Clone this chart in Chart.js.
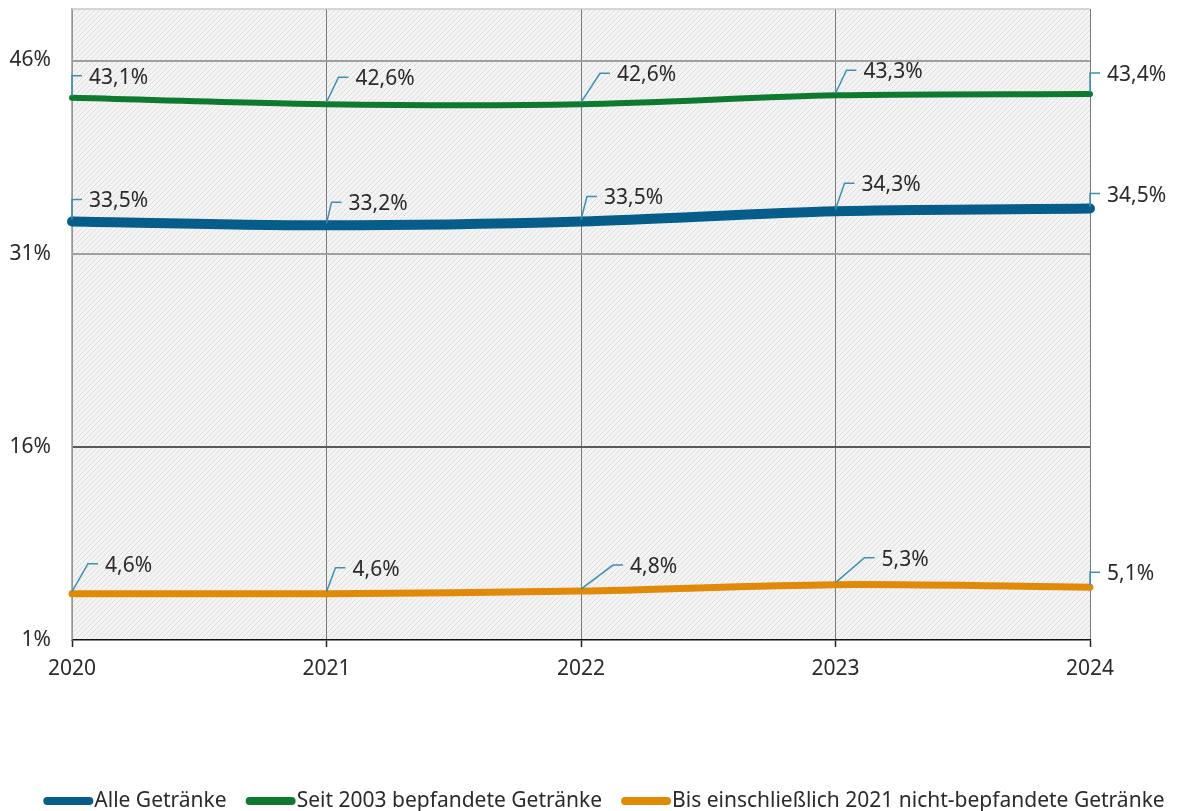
<!DOCTYPE html>
<html>
<head>
<meta charset="utf-8">
<script src="https://cdn.jsdelivr.net/npm/chart.js@4"></script>
<style>
	html, body { margin: 0; padding: 0; background: #fff; }
	#wrap { width: 1180px; height: 811px; }
</style>
</head>
<body>
<div id="wrap"><canvas id="LineChart" width="1180" height="811"></canvas></div>
<script>
const years = ["2020", "2021", "2022", "2023", "2024"];
const alle = [33.5, 33.2, 33.5, 34.3, 34.5];
const seit2003 = [43.1, 42.6, 42.6, 43.3, 43.4];
const bis2021 = [4.6, 4.6, 4.8, 5.3, 5.1];
const y_ticks = [1, 16, 31, 46];

const FONT = "'Noto Sans', sans-serif";
const TEXT_COLOR = "#2a2a2a";

// leader elbow offsets (px) per dataset / point, as placed in the original
const leader_offsets = [
	[[0, -22], [5, -23], [6, -25], [9, -28], [0, -15]],
	[[0, -22], [12, -27], [19, -31], [11, -25], [0, -21]],
	[[16, -30], [9, -26], [32, -26], [29, -27], [0, -15]]
];

function de_percent(v) {
	return v.toFixed(1).replace(".", ",") + "%";
}

function hatch_pattern(ctx) {
	const c = document.createElement("canvas");
	c.width = 5;
	c.height = 5;
	const p = c.getContext("2d");
	p.fillStyle = "#f4f4f4";
	p.fillRect(0, 0, 5, 5);
	p.strokeStyle = "#dddddd";
	p.lineWidth = 1;
	p.beginPath();
	p.moveTo(-1, 6); p.lineTo(6, -1);
	p.moveTo(-1, 1); p.lineTo(1, -1);
	p.moveTo(4, 6); p.lineTo(6, 4);
	p.stroke();
	return ctx.createPattern(c, "repeat");
}

const plot_background = {
	id: "plot_background",
	beforeDraw(chart) {
		const { ctx, chartArea: a } = chart;
		ctx.save();
		ctx.fillStyle = hatch_pattern(ctx);
		ctx.fillRect(a.left, a.top, a.right - a.left, a.bottom - a.top);
		ctx.restore();
	},
	afterDatasetsDraw(chart) {
		const { ctx, chartArea: a } = chart;
		ctx.save();
		ctx.strokeStyle = "#c8c8c8";
		ctx.lineWidth = 1.5;
		ctx.beginPath();
		ctx.moveTo(a.left, a.top);
		ctx.lineTo(a.right, a.top);
		ctx.stroke();
		ctx.restore();
	}
};

const callouts = {
	id: "callouts",
	afterDatasetsDraw(chart) {
		const ctx = chart.ctx;
		ctx.save();
		ctx.font = "21px " + FONT;
		ctx.textBaseline = "middle";
		ctx.fillStyle = TEXT_COLOR;
		chart.data.datasets.forEach((ds, i) => {
			chart.getDatasetMeta(i).data.forEach((pt, j) => {
				const [dx, dy] = leader_offsets[i][j];
				const ex = pt.x + dx, ey = pt.y + dy;
				ctx.strokeStyle = "#3d8fb5";
				ctx.lineWidth = 1.5;
				ctx.beginPath();
				ctx.moveTo(pt.x, pt.y - 2);
				ctx.lineTo(ex, ey);
				ctx.lineTo(ex + 10, ey);
				ctx.stroke();
				ctx.fillText(de_percent(ds.data[j]), ex + 17, ey + 2);
			});
		});
		ctx.restore();
	}
};

const bottom_legend = {
	id: "bottom_legend",
	afterDraw(chart) {
		const ctx = chart.ctx;
		ctx.save();
		ctx.font = "21px " + FONT;
		ctx.textBaseline = "middle";
		const swatch = 50, gap = 1, spacing = 19, y = 801;
		const items = chart.data.datasets.map(ds => ({
			label: ds.label, color: ds.borderColor, w: swatch + gap + ctx.measureText(ds.label).width
		}));
		const total = items.reduce((s, it) => s + it.w, 0) + spacing * (items.length - 1);
		let x = (chart.width - total) / 2 + 14;
		for (const it of items) {
			ctx.strokeStyle = it.color;
			ctx.lineWidth = 8;
			ctx.lineCap = "round";
			ctx.beginPath();
			ctx.moveTo(x + 4, y);
			ctx.lineTo(x + swatch - 4, y);
			ctx.stroke();
			ctx.fillStyle = TEXT_COLOR;
			ctx.fillText(it.label, x + swatch + gap, y);
			x += it.w + spacing;
		}
		ctx.restore();
	}
};

const data = {
	labels: years,
	datasets: [{
		label: "Alle Getränke",
		data: alle,
		borderColor: "#065d8a",
		borderWidth: 10
	}, {
		label: "Seit 2003 bepfandete Getränke",
		data: seit2003,
		borderColor: "#0d7a30",
		borderWidth: 6
	}, {
		label: "Bis einschließlich 2021 nicht-bepfandete Getränke",
		data: bis2021,
		borderColor: "#e08a08",
		borderWidth: 7
	}]
};
data.datasets.forEach(ds => {
	ds.tension = 0.3;
	ds.pointRadius = 0;
	ds.borderCapStyle = "round";
	ds.borderJoinStyle = "round";
	ds.clip = false;
});

const context = document.getElementById("LineChart").getContext("2d");
const chart = new Chart(context, {
	type: "line",
	data,
	plugins: [plot_background, callouts, bottom_legend],
	options: {
		responsive: false,
		animation: false,
		layout: { padding: { left: 0, top: 9, right: 90, bottom: 121 } },
		plugins: {
			legend: { display: false },
			tooltip: { enabled: false }
		},
		scales: {
			x: {
				offset: false,
				afterFit(scale) {
					scale.height = 50;
					scale.paddingLeft = 0;
					scale.paddingRight = 0;
				},
				grid: {
					color: "#7a7a7a",
					lineWidth: 1,
					tickLength: 7,
					tickColor: "#222",
					tickWidth: 1.5
				},
				border: { color: "#111", width: 1.5 },
				ticks: {
					color: TEXT_COLOR,
					font: { family: FONT, size: 21 },
					padding: 9,
					maxRotation: 0
				}
			},
			y: {
				min: 1,
				max: 50,
				afterFit(scale) {
					scale.width = 72;
					scale.paddingTop = 0;
					scale.paddingBottom = 0;
				},
				afterBuildTicks(scale) { scale.ticks = y_ticks.map(v => ({ value: v })); },
				grid: {
					drawTicks: false,
					color: ctx => ctx.tick && ctx.tick.value === 16 ? "#5a5a5a" : "#a0a0a0",
					lineWidth: ctx => ctx.tick && ctx.tick.value === 1 ? 0 : 2
				},
				border: { color: "#b0b0b0", width: 1.5 },
				ticks: {
					color: TEXT_COLOR,
					font: { family: FONT, size: 21 },
					padding: 21,
					callback: v => v + "%"
				}
			}
		}
	}
});
</script>
</body>
</html>
